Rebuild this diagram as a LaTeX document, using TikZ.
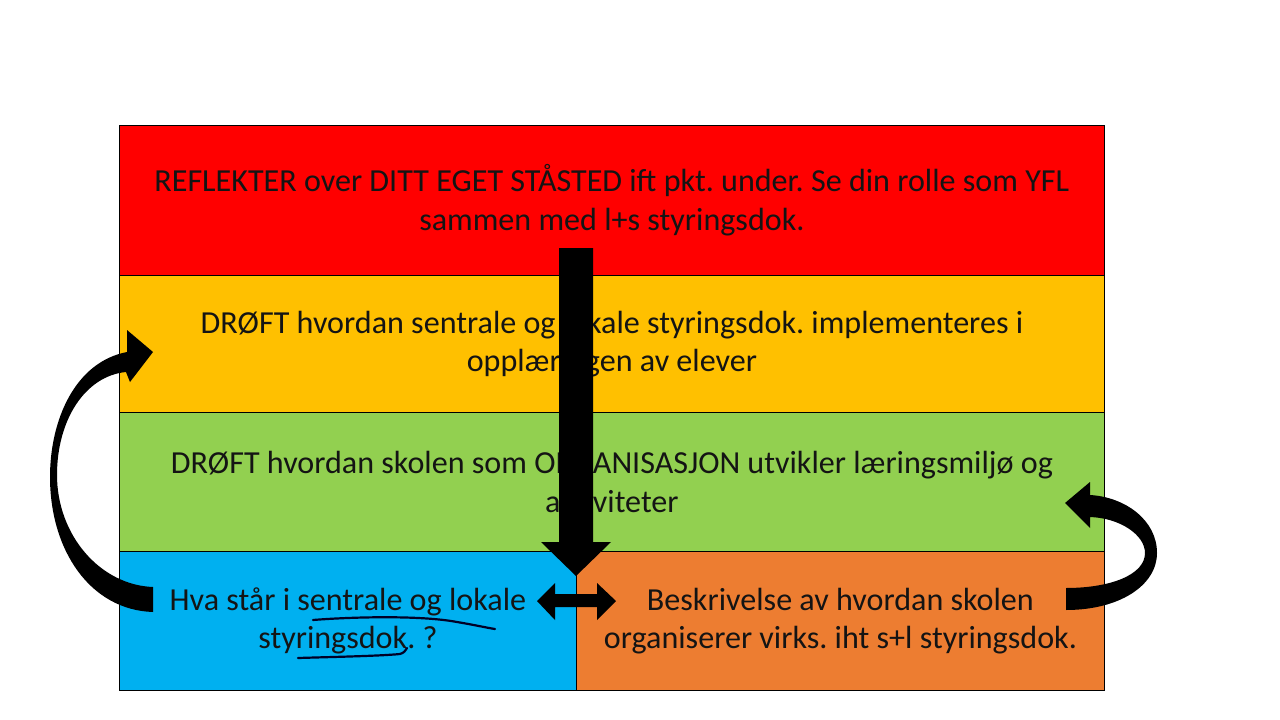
\documentclass[tikz,border=0pt]{standalone}
\usepackage{fontspec}
\setmainfont{Carlito}
\frenchspacing
\definecolor{cred}{HTML}{FF0000}
\definecolor{cyellow}{HTML}{FFC000}
\definecolor{cgreen}{HTML}{92D050}
\definecolor{cblue}{HTML}{00B0F0}
\definecolor{corange}{HTML}{ED7D31}
\begin{document}
\begin{tikzpicture}[x=1pt,y=-1pt,
  band/.style={draw=black,line width=0.8pt,anchor=north west,inner sep=0pt,
    align=center,font=\fontsize{32.1}{38.5}\selectfont,text=black!92},
  blockarrow/.style={fill=black,draw=none},
  scribble/.style={draw=black!85!blue,line width=2.2pt,line cap=round}]
\useasboundingbox (0,0) rectangle (1280,720);
\fill[white] (0,0) rectangle (1280,720);
\node[band,fill=cred,minimum width=985pt,minimum height=150pt] (red) at (119,125)
  {REFLEKTER over DITT EGET STÅSTED ift pkt. under. Se din rolle som YFL\\sammen med l+s styringsdok.};
\node[band,fill=cyellow,minimum width=985pt,minimum height=137pt] (yellow) at (119,275)
  {DRØFT hvordan sentrale og lokale styringsdok. implementeres i\\opplæringen av elever};
\node[band,fill=cgreen,minimum width=985pt,minimum height=139pt] (green) at (119,412)
  {DRØFT hvordan skolen som ORGANISASJON utvikler læringsmiljø og\\aktiviteter};
\node[band,fill=cblue,minimum width=457pt,minimum height=139pt] (blue) at (119,551)
  {Hva står i sentrale og lokale\\styringsdok. ?};
\node[band,fill=corange,minimum width=528pt,minimum height=139pt] (orange) at (576,551)
  {Beskrivelse av hvordan skolen\\organiserer virks. iht s+l styringsdok.};
% down arrow
\fill[blockarrow] (559,248) -- (593,248) -- (593,542) -- (611,542) -- (576,576)
  -- (541,542) -- (559,542) -- cycle;
% double arrow
\fill[blockarrow] (537,601) -- (555,583) -- (555,594) -- (597,594) -- (597,583)
  -- (616,601) -- (597,620) -- (597,607) -- (555,607) -- (555,620) -- cycle;
% left curved arrow
\fill[blockarrow] (153,587) .. controls (100,585) and (57,535) .. (57,475)
  .. controls (57,420) and (85,376) .. (126,372) -- (130,382) -- (153,352)
  -- (127,330) -- (127,352) .. controls (75,362) and (50,420) .. (50,477)
  .. controls (50,550) and (90,610) .. (153,612) -- cycle;
% right curved arrow
\fill[blockarrow] (1066,610) .. controls (1120,610) and (1157,585) .. (1157,553)
  .. controls (1157,520) and (1125,497) .. (1090,495) -- (1090,482) -- (1065,503)
  -- (1090,528) -- (1090,517) .. controls (1120,518) and (1145,535) .. (1145,553)
  .. controls (1145,575) and (1110,588) .. (1066,588) -- cycle;
% handwritten underlines
\draw[scribble] (313,620) .. controls (350,617) and (420,615) .. (457,622)
  .. controls (475,625) and (488,628) .. (495,629);
\draw[scribble] (298,658) .. controls (330,657) and (380,656) .. (400,654)
  .. controls (404,653) and (406,650) .. (407,648);
\end{tikzpicture}
\end{document}
